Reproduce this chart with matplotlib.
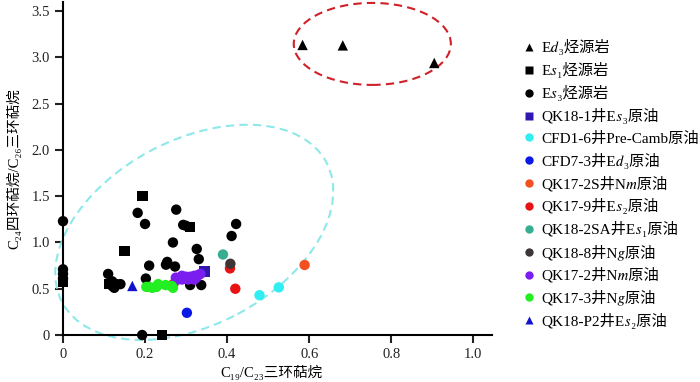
import matplotlib
matplotlib.use("Agg")
import numpy as np
from matplotlib import pyplot as plt
from matplotlib.patches import Ellipse
from matplotlib.transforms import ScaledTranslation

# serif latin, STIX for italic/subscript glyphs, Noto CJK for the chinese
plt.rcParams['font.family'] = ['Liberation Serif', 'STIXGeneral', 'Noto Sans CJK SC']

# source rocks
ed3_x = [0.584, 0.682, 0.905]
ed3_y = [3.135, 3.13, 2.94]
es1_x = [0.0, 0.113, 0.15, 0.194, 0.242, 0.309]
es1_y = [0.57, 0.55, 0.91, 1.50, 0.0, 1.17]
es3_x = [0.0, 0.0, 0.0, 0.0, 0.11, 0.12, 0.125, 0.13, 0.14, 0.12, 0.182, 0.20, 0.202,
         0.21, 0.193, 0.276, 0.268, 0.254, 0.251, 0.273, 0.293, 0.30, 0.326, 0.331,
         0.31, 0.337, 0.411, 0.422]
es3_y = [1.23, 0.71, 0.66, 0.61, 0.66, 0.58, 0.51, 0.55, 0.55, 0.53, 1.32, 1.20, 0.61,
         0.75, 0.0, 1.355, 1.0, 0.79, 0.76, 0.74, 1.19, 1.18, 0.93, 0.82,
         0.54, 0.54, 1.07, 1.20]

# crude oils
qk18_1_x = [0.345]
qk18_1_y = [0.685]
cfd1_6_x = [0.479, 0.526]
cfd1_6_y = [0.43, 0.515]
cfd7_3_x = [0.302]
cfd7_3_y = [0.24]
qk17_2s_x = [0.589]
qk17_2s_y = [0.757]
qk17_9_x = [0.407, 0.42, 0.269]
qk17_9_y = [0.72, 0.50, 0.55]
qk18_2sa_x = [0.39]
qk18_2sa_y = [0.87]
qk18_8_x = [0.408]
qk18_8_y = [0.77]
qk17_2_x = [0.275, 0.28, 0.285, 0.29, 0.295, 0.30, 0.305, 0.31, 0.315, 0.32, 0.325,
            0.33, 0.335, 0.29, 0.30, 0.31, 0.32]
qk17_2_y = [0.62, 0.60, 0.62, 0.60, 0.61, 0.62, 0.60, 0.63, 0.61, 0.64, 0.62,
            0.65, 0.66, 0.64, 0.63, 0.62, 0.60]
qk17_3_x = [0.203, 0.21, 0.218, 0.228, 0.232, 0.25, 0.265, 0.268]
qk17_3_y = [0.52, 0.52, 0.51, 0.52, 0.55, 0.54, 0.53, 0.51]
qk18_p2_x = [0.169]
qk18_p2_y = [0.53]

series = [
    (ed3_x, ed3_y, '^', 'black', 'E𝑑₃烃源岩'),
    (es1_x, es1_y, 's', 'black', 'E𝑠₁烃源岩'),
    (es3_x, es3_y, 'o', 'black', 'E𝑠₃烃源岩'),
    (qk18_1_x, qk18_1_y, 's', '#3216b0', 'QK18-1井E𝑠₃原油'),
    (cfd1_6_x, cfd1_6_y, 'o', '#30eef2', 'CFD1-6井Pre-Camb原油'),
    (cfd7_3_x, cfd7_3_y, 'o', '#0c18e6', 'CFD7-3井E𝑑₃原油'),
    (qk17_2s_x, qk17_2s_y, 'o', '#f25020', 'QK17-2S井N𝑚原油'),
    (qk17_9_x, qk17_9_y, 'o', '#e81212', 'QK17-9井E𝑠₂原油'),
    (qk18_2sa_x, qk18_2sa_y, 'o', '#38ae90', 'QK18-2SA井E𝑠₁原油'),
    (qk18_8_x, qk18_8_y, 'o', '#3e3636', 'QK18-8井N𝑔原油'),
    (qk17_2_x, qk17_2_y, 'o', '#7a1ef0', 'QK17-2井N𝑚原油'),
    (qk17_3_x, qk17_3_y, 'o', '#22ee22', 'QK17-3井N𝑔原油'),
    (qk18_p2_x, qk18_p2_y, '^', '#1212cc', 'QK18-P2井E𝑠₂原油'),
]

fig = plt.figure(figsize=(7, 3.82), dpi=100)
ax = fig.add_axes([0.09, 0.123, 0.613, 0.872])

handles = []
for x, y, m, c, lab in series:
    ax.scatter(x, y, marker=m, s=56, color=c, edgecolors='none', clip_on=False, zorder=3)
    h, = ax.plot([], [], linestyle='none', marker=m, markersize=6,
                 markerfacecolor=c, markeredgecolor='none', label=lab)
    handles.append(h)

# red dashed ellipse around Ed3 source rocks
ax.add_patch(Ellipse((0.754, 3.146), 0.383, 0.886, fill=False, edgecolor='#d02028',
                     linestyle=(0, (4, 2.5)), linewidth=1.5, clip_on=False, zorder=2))
# tilted cyan dashed ellipse (sized in inches, centred in data coords)
ax.add_patch(Ellipse((0, 0), 2.99, 1.85, angle=27.9, fill=False, edgecolor='#8ee8ea',
                     linestyle=(0, (4, 2.5)), linewidth=1.5, clip_on=False, zorder=2,
                     transform=fig.dpi_scale_trans + ScaledTranslation(0.32, 1.11, ax.transData)))

ax.set_xlim(0, 1.046)
ax.set_ylim(0, 3.6)
ax.set_xticks([0, 0.2, 0.4, 0.6, 0.8, 1.0])
ax.set_xticklabels(['0', '0.2', '0.4', '0.6', '0.8', '1.0'])
ax.set_yticks([0, 0.5, 1.0, 1.5, 2.0, 2.5, 3.0, 3.5])
ax.set_yticklabels(['0', '0.5', '1.0', '1.5', '2.0', '2.5', '3.0', '3.5'])
ax.spines['top'].set_visible(False)
ax.spines['right'].set_visible(False)
ax.spines['left'].set_linewidth(1.5)
ax.spines['bottom'].set_linewidth(1.5)
ax.tick_params(direction='out', length=6, width=1.5, labelsize=10.5, colors='#222222')
ax.set_xlabel('C₁₉/C₂₃三环萜烷', fontsize=10.5, labelpad=3)
ax.xaxis.set_label_coords(0.487, -0.09)
ax.set_ylabel('C₂₄四环萜烷/C₂₆三环萜烷', fontsize=10.5, labelpad=7)

fig.legend(handles=handles, loc='upper left', bbox_to_anchor=(0.738, 0.914), frameon=False,
           fontsize=11, labelspacing=0.465, handlelength=0.8, handletextpad=0.45,
           borderaxespad=0)

fig.savefig('out.png', dpi=100)
